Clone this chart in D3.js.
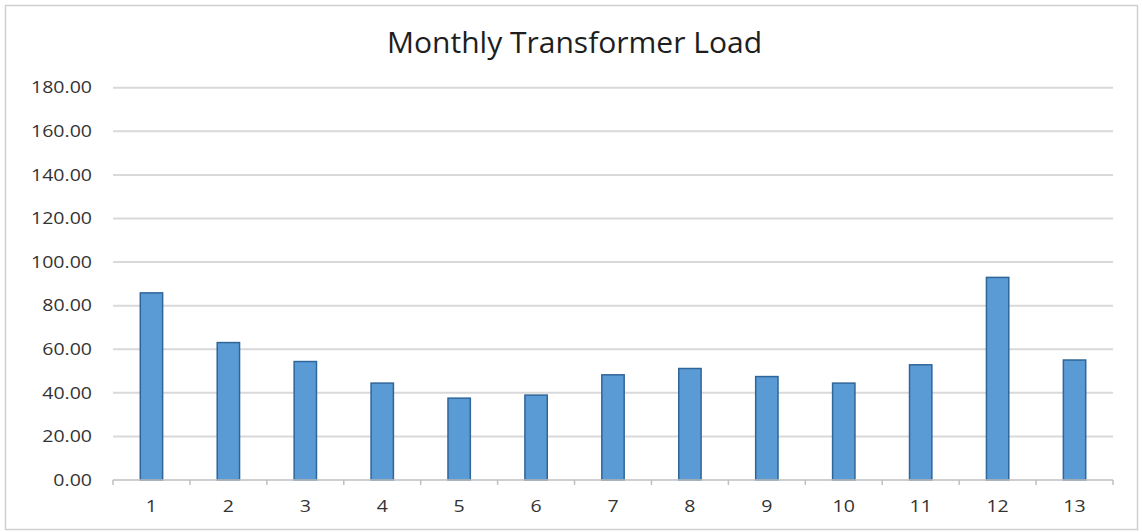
<!DOCTYPE html>
<html><head><meta charset="utf-8">
<script src="https://cdn.jsdelivr.net/npm/d3@7"></script>
<style>body{margin:0;background:#fff}svg{display:block}</style>
</head><body>
<svg id="c" width="1142" height="532"></svg>
<script>
const categories = ["1","2","3","4","5","6","7","8","9","10","11","12","13"];
const loads = [86.2, 63.4, 54.7, 44.8, 37.9, 39.3, 48.6, 51.5, 47.8, 44.8, 53.2, 93.3, 55.4];
const yTicks = [0, 20, 40, 60, 80, 100, 120, 140, 160, 180];
const chartTitle = "Monthly Transformer Load";

(function(){
const svg = d3.select("#c");
const font = "'Open Sans', 'Noto Sans', sans-serif";
const stretch = 1.22;
function widen(sel){
  sel.each(function(){
    const w = this.getComputedTextLength();
    d3.select(this).attr("textLength", w*stretch).attr("lengthAdjust","spacingAndGlyphs");
  });
}
svg.append("rect").attr("x",5.5).attr("y",5.5).attr("width",1132).attr("height",524)
  .attr("fill","#fff").attr("stroke","#d0d0d0").attr("stroke-width",1.5);

const mLeft = 113, mRight = 1113, mTop = 87.7, mBottom = 480;
const x = d3.scaleBand().domain(categories).range([mLeft, mRight]).paddingInner(0.69).paddingOuter(0.345);
const xb = d3.scaleBand().domain(categories).range([mLeft, mRight]);
const y = d3.scaleLinear().domain([0, 180]).range([mBottom, mTop]);

svg.append("g").selectAll("line").data(yTicks.filter(d=>d>0)).join("line")
  .attr("x1", mLeft).attr("x2", mRight).attr("y1", d=>y(d)).attr("y2", d=>y(d))
  .attr("stroke","#d9d9d9").attr("stroke-width",2);

svg.append("g").selectAll("text").data(yTicks).join("text")
  .attr("x", 92).attr("y", d=>y(d)).attr("dy","0.36em").attr("text-anchor","end")
  .attr("font-family", font).attr("font-size", 16).attr("fill","#333")
  .text(d=>d3.format(".2f")(d)).call(widen);

svg.append("g").selectAll("rect").data(loads).join("rect")
  .attr("x",(d,i)=>x(categories[i])+0.75).attr("width",x.bandwidth()-1.5)
  .attr("y",d=>y(d)+0.75).attr("height",d=>mBottom-y(d)-0.75)
  .attr("fill","#5b9bd5").attr("stroke","#2f6699").attr("stroke-width",1.5);

svg.append("line").attr("x1",mLeft).attr("x2",mRight).attr("y1",mBottom).attr("y2",mBottom)
  .attr("stroke","#bfbfbf").attr("stroke-width",1.5);
const tickX = categories.map(c=>xb(c)).concat([mRight]);
svg.append("g").selectAll("line").data(tickX).join("line")
  .attr("x1",d=>d).attr("x2",d=>d).attr("y1",mBottom).attr("y2",mBottom+5)
  .attr("stroke","#bfbfbf").attr("stroke-width",1.5);

svg.append("g").selectAll("text").data(categories).join("text")
  .attr("x", d=>xb(d)+xb.bandwidth()/2).attr("y", 512).attr("text-anchor","middle")
  .attr("font-family", font).attr("font-size", 16).attr("fill","#333")
  .text(d=>d).call(widen);

svg.append("text").attr("x",574.5).attr("y",53).attr("text-anchor","middle")
  .attr("font-family", font).attr("font-size", 29).attr("fill","#1e1e1e")
  .attr("textLength", 375).attr("lengthAdjust","spacingAndGlyphs")
  .text(chartTitle);
})();
</script>
</body></html>
